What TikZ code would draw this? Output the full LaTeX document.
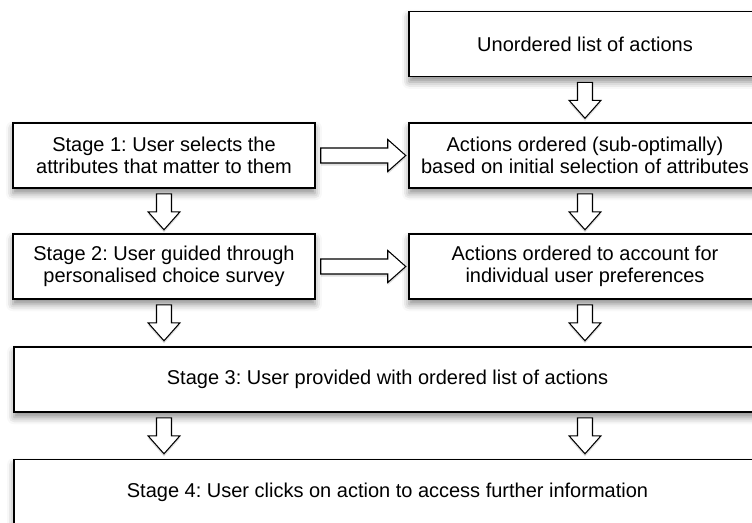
\documentclass[tikz,border=0pt]{standalone}
\usepackage{fontspec}
\setmainfont{Liberation Sans}
\frenchspacing
\usetikzlibrary{positioning, shadows, shadows.blur}

\tikzset{
  bayang/.style={blur shadow={shadow xshift=0pt, shadow yshift=-3pt,
      shadow blur radius=4pt, shadow opacity=45}},
  kotak/.style={draw, fill=white, line width=0.9pt, bayang,
    minimum height=1.3cm, inner sep=0pt, align=center,
    font=\fontsize{11.38}{12.52}\selectfont},
  panah/.pic={
    \draw[fill=white, line width=0.6pt, line join=miter,
        drop shadow={shadow xshift=0pt, shadow yshift=-1.5pt, opacity=0.25}]
      (5,-7.5) -- ({#1-13},-7.5) -- ({#1-13},-16) -- ({#1+5},0)
      -- ({#1-13},16) -- ({#1-13},7.5) -- (5,7.5) -- cycle;
  }
}

\begin{document}
\begin{tikzpicture}[x=0.02cm, y=-0.02cm]
  \clip (0,0) rectangle (752,522);

  % Kotak kanan
  \node[kotak, minimum width=7.04cm] (ua) at (585,44) {Unordered list of actions};
  \node[kotak, minimum width=7.04cm] (a1) at (585,155.5)
    {Actions ordered (sub-optimally)\\based on initial selection of attributes};
  \node[kotak, minimum width=7.04cm] (a2) at (585,266.5)
    {Actions ordered to account for\\individual user preferences};

  % Kotak kiri
  \node[kotak, minimum width=6.04cm] (s1) at (164,155.5)
    {Stage 1: User selects the\\attributes that matter to them};
  \node[kotak, minimum width=6.04cm] (s2) at (164,266.5)
    {Stage 2: User guided through\\personalised choice survey};

  % Kotak lebar
  \node[kotak, minimum width=14.94cm] (s3) at (387.5,379.5)
    {Stage 3: User provided with ordered list of actions};
  \node[kotak, minimum width=14.94cm] (s4) at (387.5,492)
    {Stage 4: User clicks on action to access further information};

  % Panah ke bawah
  \foreach \p in {ua.south, a1.south, a2.south, s1.south, s2.south,
      s3.south -| s1.south, s3.south -| a1.south} {
    \pic[rotate=-90] at (\p) {panah=36};
  }

  % Panah ke kanan
  \foreach \p in {s1.east, s2.east} {
    \pic at (\p) {panah=85};
  }
\end{tikzpicture}
\end{document}
